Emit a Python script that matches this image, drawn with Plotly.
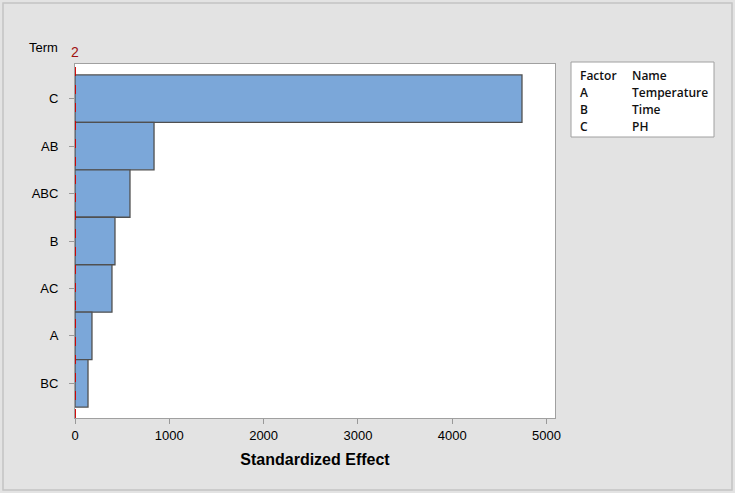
import plotly.graph_objects as go

terms = ["C", "AB", "ABC", "B", "AC", "A", "BC"]
effects = [4740, 838, 583, 424, 392, 180, 138]
ref_value = 2
factors = ["A", "B", "C"]
names = ["Temperature", "Time", "PH"]
x_ticks = [0, 1000, 2000, 3000, 4000, 5000]

L, R, T, B = 75, 555, 64, 418
W, H = 735, 493
pw, ph = R - L, B - T

def px(x):
    return (x - L) / pw

def py(y):
    return (B - y) / ph

fig = go.Figure()
fig.add_trace(go.Bar(
    x=effects, y=terms, orientation="h", width=1.0,
    marker=dict(color="#7ba7d9", line=dict(color="#505050", width=1.3)),
    hoverinfo="x+y",
))

fig.update_layout(
    width=W, height=H,
    margin=dict(l=L, r=W - R, t=T, b=H - B, pad=0),
    paper_bgcolor="#e3e3e3", plot_bgcolor="white",
    showlegend=False,
    font=dict(family="Liberation Sans, Arial", color="black", size=13),
    xaxis=dict(range=[0, 5090], tickvals=x_ticks, ticks="outside", ticklen=5,
               tickcolor="#999", showgrid=False, zeroline=False,
               showline=True, linecolor="#a0a0a0", linewidth=1, mirror=True,
               tickfont=dict(size=13),
               title=dict(text="<b>Standardized Effect</b>", font=dict(size=16), standoff=12)),
    yaxis=dict(categoryorder="array", categoryarray=terms[::-1],
               range=[-0.73, 6.73], ticks="outside", ticklen=5, tickcolor="#999",
               showgrid=False, zeroline=False, showline=True, linecolor="#a0a0a0",
               linewidth=1, mirror=True, tickfont=dict(size=13), ticklabelstandoff=8),
)

# reference line
fig.add_shape(type="line", xref="x", yref="paper", x0=ref_value, x1=ref_value,
              y0=0, y1=1, line=dict(color="#d00000", width=1.5, dash="dash"))
fig.add_annotation(x=ref_value, xref="x", y=py(52), yref="paper", text=str(ref_value),
                   showarrow=False, font=dict(color="#a01010", size=14), xanchor="center", yanchor="middle")
fig.add_annotation(x=px(27), xref="paper", y=py(47), yref="paper", text="Term",
                   showarrow=False, font=dict(size=13), xanchor="left", yanchor="middle")

# outer frame
fig.add_shape(type="rect", xref="paper", yref="paper", x0=px(3), x1=px(732),
              y0=py(490), y1=py(3), line=dict(color="#c4c4c4", width=1.5), layer="below")

# factor table box
fig.add_shape(type="rect", xref="paper", yref="paper", x0=px(571), x1=px(714),
              y0=py(137), y1=py(62), fillcolor="white", line=dict(color="#a0a0a0", width=1))
tfont = dict(family="Open Sans, Noto Sans", size=12, color="#111", weight=600)
rows_y = [75, 92, 109, 127]
fig.add_annotation(x=px(578), xref="paper", y=py(rows_y[0]), yref="paper", text="Factor",
                   showarrow=False, font=tfont, xanchor="left", yanchor="middle")
fig.add_annotation(x=px(630), xref="paper", y=py(rows_y[0]), yref="paper", text="Name",
                   showarrow=False, font=tfont, xanchor="left", yanchor="middle")
for f, n, yy in zip(factors, names, rows_y[1:]):
    fig.add_annotation(x=px(578), xref="paper", y=py(yy), yref="paper", text=f,
                       showarrow=False, font=tfont, xanchor="left", yanchor="middle")
    fig.add_annotation(x=px(630), xref="paper", y=py(yy), yref="paper", text=n,
                       showarrow=False, font=tfont, xanchor="left", yanchor="middle")

fig.write_html(
    "out.html",
    config={"displayModeBar": False},
    post_script="document.body.style.margin='0';document.body.style.padding='0';"
                "document.body.style.background='#e3e3e3';document.body.style.overflow='hidden';",
)
